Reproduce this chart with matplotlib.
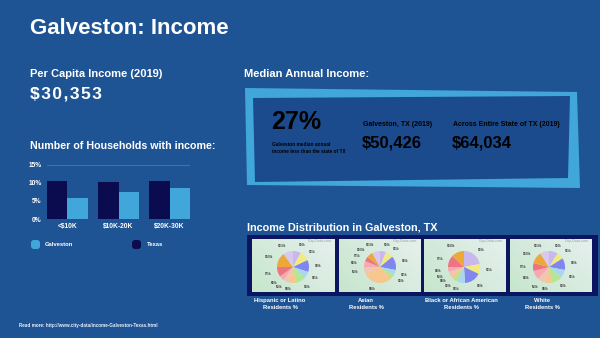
import matplotlib
matplotlib.use("Agg")
import matplotlib.pyplot as plt
from matplotlib.patches import Polygon, FancyBboxPatch, Rectangle
from matplotlib.colors import LinearSegmentedColormap
import numpy as np

plt.rcParams['font.family'] = ['Liberation Sans', 'DejaVu Sans']
plt.rcParams['font.weight'] = 'bold'

# ---------------- data ----------------
title = "Galveston: Income"
per_capita_label = "Per Capita Income (2019)"
per_capita_value = "$\u200a3\u200a0\u200a,\u200a3\u200a5\u200a3"
median_pct = "27%"
median_note = "Galveston median annual\nincome less than the state of TX"
city_label = "Galveston, TX (2019)"
city_income = "$50,426"
state_label = "Across Entire State of TX (2019)"
state_income = "$64,034"

bar_categories = ["<$10K", "$10K-20K", "$20K-30K"]
texas_pct = [10.5, 10.4, 10.5]
galveston_pct = [5.9, 7.6, 8.7]
y_ticks = [0, 5, 10, 15]
y_tick_labels = ["0%", "5%", "10%", "15%"]

pie_groups = ["Hispanic or Latino\nResidents %", "Asian\nResidents %",
              "Black or African American\nResidents %", "White\nResidents %"]
pie_brackets = ["$10k", "$15k", "$20k", "$25k", "$30k", "$40k", "$50k",
                "$60k", "$75k", "$100k", "$150k"]
hispanic_vals = [8, 10, 12, 7, 10, 8, 5, 5, 10, 15, 10]
asian_vals = [6, 8, 14, 5, 5, 30, 7, 6, 5, 6, 8]
black_vals = [22, 10, 17, 8, 5, 4, 4, 5, 12, 13]
white_vals = [9, 7, 12, 8, 11, 7, 8, 9, 8, 12, 9]
pie_values = [hispanic_vals, asian_vals, black_vals, white_vals]

footer = "Read more: http://www.city-data/income-Galveston-Texas.html"

# ---------------- style ----------------
BG = "#1e5494"
LIGHT = "#41a6d9"
NAVY = "#0b0b4f"
INNER = "#1b4b8c"
pie_colors = ["#c8b8ee", "#f2ea80", "#7f86ee", "#a9d6f0", "#b4e694",
              "#f7c78e", "#f1c4b4", "#f6a9ae", "#ef7483", "#eda83a", "#d8c8f0"]

W, H = 600, 338
fig = plt.figure(figsize=(6, 3.38), dpi=100)
fig.patch.set_facecolor(BG)

bg = fig.add_axes([0, 0, 1, 1])
bg.set_xlim(0, W)
bg.set_ylim(H, 0)
bg.axis("off")

def ax_rect(x0, y0, x1, y1):
    return [x0 / W, 1 - y1 / H, (x1 - x0) / W, (y1 - y0) / H]

# title & headings
bg.text(30, 28, title, color="white", fontsize=16, fontweight="bold", va="center", ha="left")
bg.text(30, 74, per_capita_label, color="white", fontsize=8, va="center")
bg.text(30, 94, per_capita_value, color="white", fontsize=12.5, va="center")
bg.text(244, 74, "Median Annual Income:", color="white", fontsize=8, va="center")
bg.text(30, 146, "Number of Households with income:", color="white", fontsize=7.7, va="center")
bg.text(247, 228, "Income Distribution in Galveston, TX", color="white", fontsize=7.8, va="center")
bg.text(19, 325, footer, color="#e8eef8", fontsize=3.3, va="center")

# median box
bg.add_patch(Polygon([(245, 88), (577, 92), (580, 188), (247, 185)], closed=True,
                     facecolor=LIGHT, edgecolor="none"))
bg.add_patch(Polygon([(253, 98), (570, 96), (568, 178), (255, 182)], closed=True,
                     facecolor=INNER, edgecolor="none"))
bg.text(271, 122, median_pct, color="black", fontsize=18, va="center")
bg.text(272, 148, median_note, color="black", fontsize=3.4, va="center", linespacing=1.5)
bg.text(363, 125, city_label, color="black", fontsize=5, va="center")
bg.text(362, 143, city_income, color="black", fontsize=12, va="center")
bg.text(453, 125, state_label, color="black", fontsize=5, va="center")
bg.text(452, 143, state_income, color="black", fontsize=12, va="center")

# legend
bg.add_patch(FancyBboxPatch((31, 240), 9, 9, boxstyle="round,pad=0,rounding_size=3",
                            facecolor=LIGHT, edgecolor="none"))
bg.text(45, 244.5, "Galveston", color="white", fontsize=4.2, va="center")
bg.add_patch(FancyBboxPatch((132, 240), 9, 9, boxstyle="round,pad=0,rounding_size=3",
                            facecolor=NAVY, edgecolor="none"))
bg.text(147, 244.5, "Texas", color="white", fontsize=4.2, va="center")

# bar chart
bax = fig.add_axes(ax_rect(47, 165, 190, 219))
bax.set_facecolor("none")
x = np.arange(len(bar_categories))
bw = 0.4
bax.bar(x - bw / 2, texas_pct, width=bw, color=NAVY, zorder=3)
bax.bar(x + bw / 2, galveston_pct, width=bw, color=LIGHT, zorder=3)
bax.set_xlim(-0.4, 2.4)
bax.set_ylim(0, 15)
bax.set_yticks(y_ticks)
bax.set_yticklabels(y_tick_labels)
bax.set_xticks(x)
bax.set_xticklabels(bar_categories)
bax.tick_params(axis="both", length=0, colors="white", labelsize=4.8, pad=4)
bax.tick_params(axis="x", pad=3)
for s in bax.spines.values():
    s.set_visible(False)
bax.axhline(15, color="#4a78b0", lw=0.6, zorder=1)

# pie section
bg.add_patch(Rectangle((247, 235), 351, 61, facecolor="#0b1560", edgecolor="none"))
panels = [(252, 335), (339, 420), (424, 506), (510, 592)]
pie_centers = [(293, 267), (380, 267), (464, 267), (549, 267)]
label_centers = [280, 366, 461, 542]
grad = (np.linspace(0, 1, 100)[None, :] * 0.6 + np.linspace(0, 1, 60)[:, None] * 0.4)
gcmap = LinearSegmentedColormap.from_list("g", ["#c6e6cc", "#e6f0ee"])
R = 16
for (px0, px1), vals, grp, (pcx, pcy), lcx in zip(panels, pie_values, pie_groups,
                                                  pie_centers, label_centers):
    pax = fig.add_axes(ax_rect(px0, 239, px1, 292))
    pax.imshow(grad, cmap=gcmap, extent=(0, 1, 0, 1), aspect="auto", origin="lower")
    pax.set_xlim(0, 1)
    pax.set_ylim(0, 1)
    pax.axis("off")
    pax.text(0.97, 0.955, "City-Data.com", fontsize=2.6, color="#a6b8b2", ha="right",
             va="center", transform=pax.transAxes)

    qax = fig.add_axes(ax_rect(pcx - R, pcy - R, pcx + R, pcy + R))
    qax.pie(vals, colors=pie_colors[:len(vals)], labels=pie_brackets[:len(vals)],
            startangle=90, counterclock=False, labeldistance=1.4,
            textprops=dict(fontsize=2.2, color="#4a4a4a"))
    qax.set_xlim(-1, 1)
    qax.set_ylim(-1, 1)
    qax.axis("off")
    bg.text(lcx, 304, grp, color="white", fontsize=4.2, ha="center", va="center",
            linespacing=1.6)

fig.savefig("out.png", dpi=100, facecolor=BG)
